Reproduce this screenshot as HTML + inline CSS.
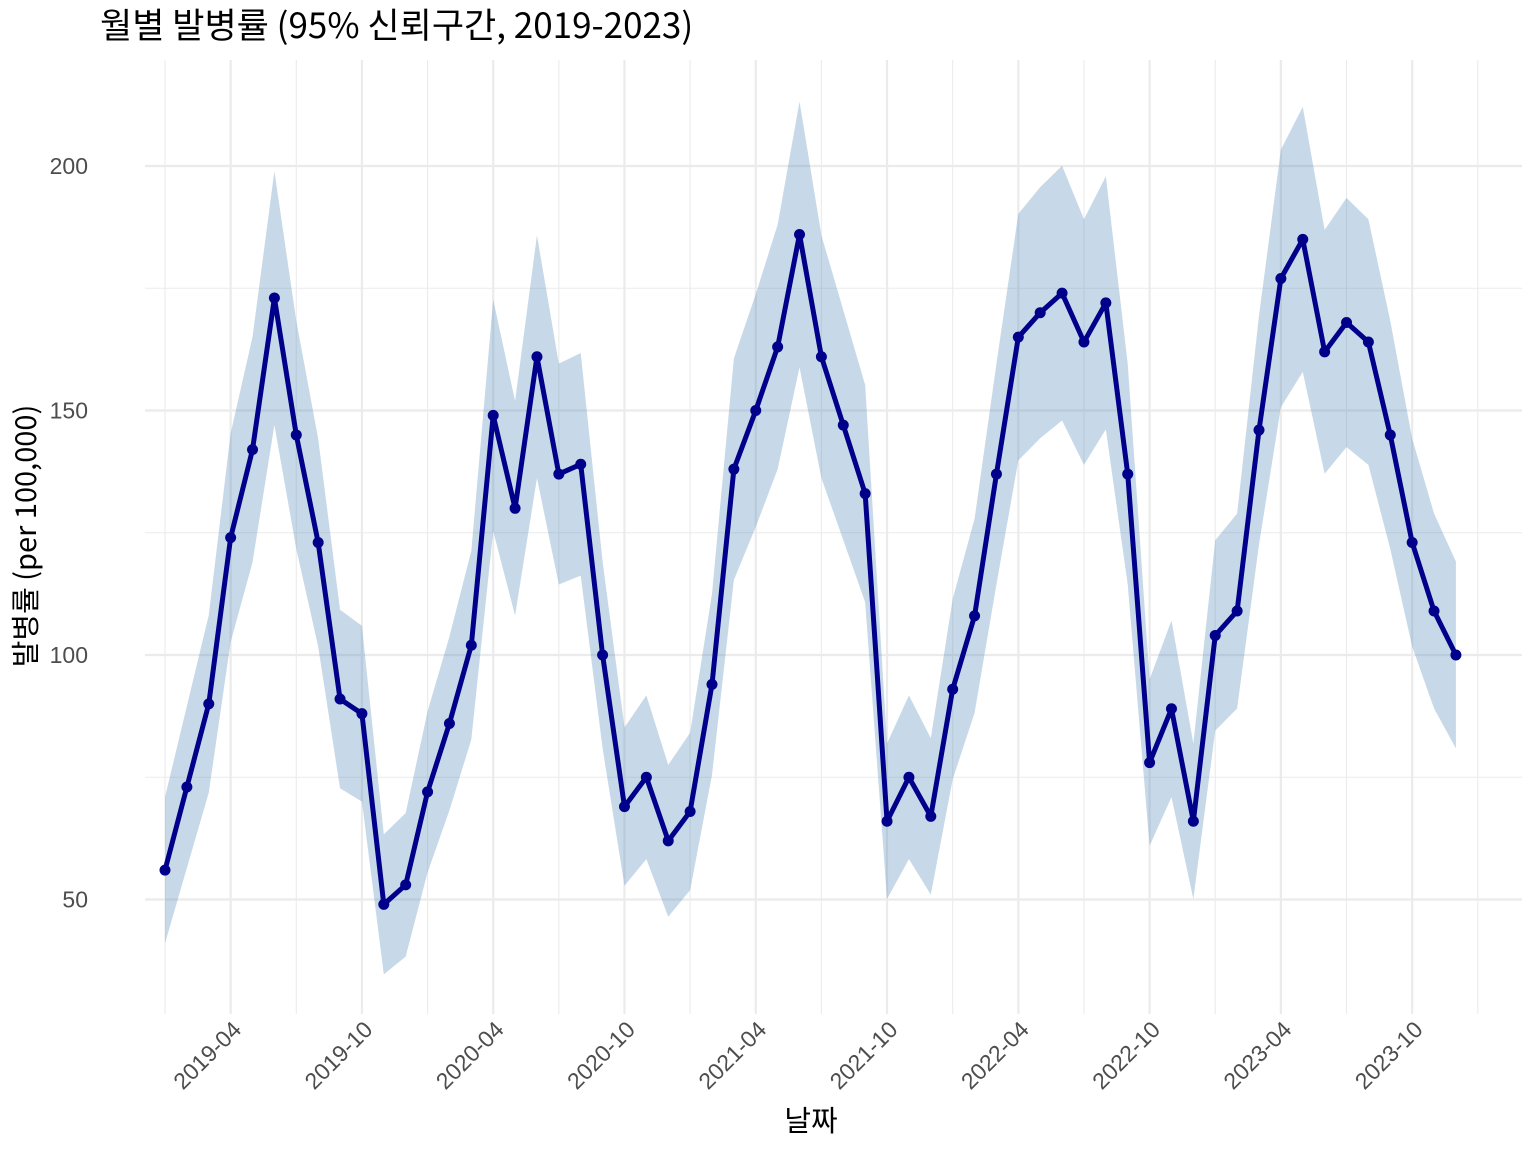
<!DOCTYPE html>
<html><head><meta charset="utf-8"><style>
html,body{margin:0;padding:0;background:#fff;}
svg{display:block;font-family:"Liberation Sans","Noto Sans CJK KR",sans-serif;}
.k{font-family:"Noto Sans CJK KR","Liberation Sans",sans-serif;}
</style></head><body>
<svg id="s" width="1536" height="1152" xmlns="http://www.w3.org/2000/svg">
<text class="k" x="100" y="38" font-size="35" fill="#000">월별 발병률 (95% 신뢰구간, 2019-2023)</text>
<text class="k" x="811" y="1131" font-size="29" text-anchor="middle" fill="#000">날짜</text>
<text class="k" transform="translate(36,536) rotate(-90)" font-size="29" text-anchor="middle" fill="#000">발병률 (per 100,000)</text>
<g id="g"></g>
</svg>
<script>
var v=[56,73,90,124,142,173,145,123,91,88,49,53,72,86,102,149,130,161,137,139,100,69,75,62,68,94,138,150,163,186,161,147,133,66,75,67,93,108,137,165,170,174,164,172,137,78,89,66,104,109,146,177,185,162,168,164,145,123,109,100];
function X(i){return 165+i*21.88;}
function Y(val){return 166+(200-val)*4.89;}
var h='';
[225,175,125,75].forEach(function(t){var y=Y(t);if(y>60&&y<1012)h+='<line x1="145" x2="1522" y1="'+y+'" y2="'+y+'" stroke="#ebebeb" stroke-width="1.1"/>';});
[200,150,100,50].forEach(function(t){var y=Y(t);h+='<line x1="145" x2="1522" y1="'+y+'" y2="'+y+'" stroke="#ebebeb" stroke-width="2.2"/>';
h+='<text x="88" y="'+(y+8)+'" font-size="23" text-anchor="end" fill="#4d4d4d">'+t+'</text>';});
for(var m=0;m<=60;m+=6){h+='<line y1="60" y2="1014" x1="'+X(m)+'" x2="'+X(m)+'" stroke="#ebebeb" stroke-width="1.1"/>';}
var labs=['2019-04','2019-10','2020-04','2020-10','2021-04','2021-10','2022-04','2022-10','2023-04','2023-10'];
for(var k=0;k<10;k++){var m=3+6*k,x=X(m);
h+='<line y1="60" y2="1014" x1="'+x+'" x2="'+x+'" stroke="#ebebeb" stroke-width="2.2"/>';
h+='<text transform="translate('+(x+12)+',1031) rotate(-45)" font-size="23" text-anchor="end" fill="#4d4d4d">'+labs[k]+'</text>';}
var up=[],lo=[];
for(var i=0;i<v.length;i++){var d=9.7+0.094*v[i];up.push(X(i)+','+Y(v[i]+d));lo.unshift(X(i)+','+Y(v[i]-d));}
h+='<polygon points="'+up.concat(lo).join(' ')+'" fill="#4682b4" fill-opacity="0.3"/>';
var pts=v.map(function(a,i){return X(i)+','+Y(a);}).join(' ');
h+='<polyline points="'+pts+'" fill="none" stroke="#00008b" stroke-width="5" stroke-linejoin="round"/>';
v.forEach(function(a,i){h+='<circle cx="'+X(i)+'" cy="'+Y(a)+'" r="5.5" fill="#00008b"/>';});
document.getElementById('g').innerHTML=h;
</script>
</body></html>
